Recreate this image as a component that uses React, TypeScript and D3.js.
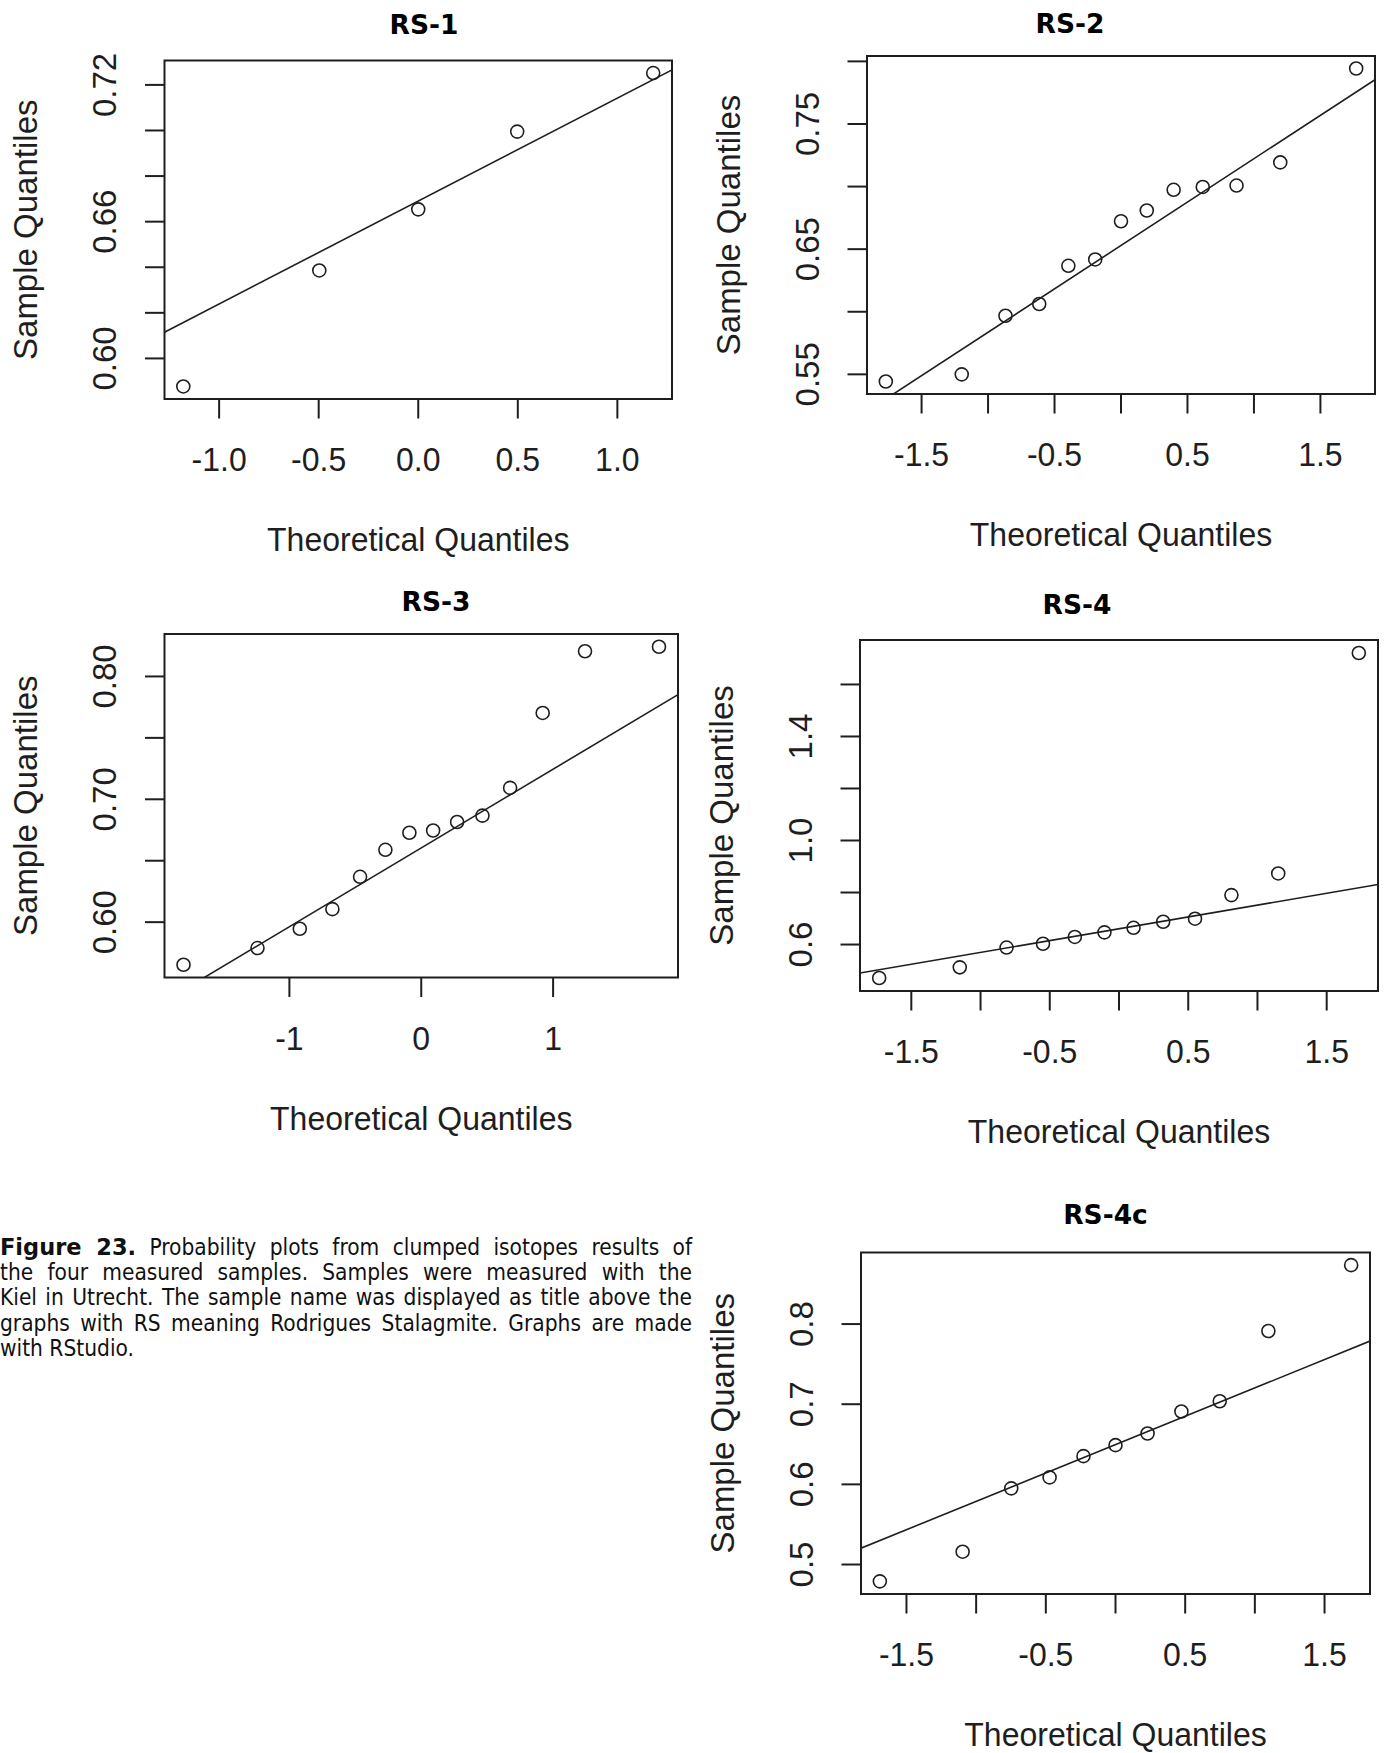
import * as d3 from "d3";
import {useLayoutEffect, useRef, useState} from "react";

// theoretical quantiles (x) and sample quantiles (y)
const RS1_THEORETICAL = [-1.18, -0.497, 0, 0.497, 1.18];
const RS1_SAMPLE = [0.5877, 0.6386, 0.6654, 0.6995, 0.7252];

const RS2_THEORETICAL = [-1.769, -1.198, -0.869, -0.615, -0.396, -0.194, 0, 0.194, 0.396, 0.615, 0.869, 1.198, 1.769];
const RS2_SAMPLE = [0.5443, 0.55, 0.5968, 0.6062, 0.6367, 0.6418, 0.6723, 0.6809, 0.6974, 0.6997, 0.7008, 0.7193, 0.7943];

const RS3_THEORETICAL = [-1.803, -1.242, -0.921, -0.674, -0.464, -0.272, -0.09, 0.09, 0.272, 0.464, 0.674, 0.921, 1.242, 1.803];
const RS3_SAMPLE = [0.5653, 0.5789, 0.5946, 0.6106, 0.6369, 0.6589, 0.6728, 0.6746, 0.6815, 0.6867, 0.7093, 0.7703, 0.8205, 0.8242];

const RS4_THEORETICAL = [-1.732, -1.15, -0.812, -0.549, -0.319, -0.105, 0.105, 0.319, 0.549, 0.812, 1.15, 1.732];
const RS4_SAMPLE = [0.4713, 0.5123, 0.5883, 0.6029, 0.6292, 0.6468, 0.6643, 0.6877, 0.6994, 0.79, 0.8734, 1.721];

const RS4C_THEORETICAL = [-1.691, -1.097, -0.748, -0.473, -0.23, 0, 0.23, 0.473, 0.748, 1.097, 1.691];
const RS4C_SAMPLE = [0.479, 0.516, 0.595, 0.6087, 0.6352, 0.6489, 0.6635, 0.6909, 0.7037, 0.7913, 0.8735];

// ticks; an empty label means R dropped it for lack of room
const X_TICKS_HALF = [-1.5, -1, -0.5, 0, 0.5, 1, 1.5];
const X_LABELS_HALF = ["-1.5", "", "-0.5", "", "0.5", "", "1.5"];
const RS1_X_TICKS = [-1, -0.5, 0, 0.5, 1];
const RS1_X_LABELS = ["-1.0", "-0.5", "0.0", "0.5", "1.0"];
const RS3_X_TICKS = [-1, 0, 1];
const RS3_X_LABELS = ["-1", "0", "1"];

const RS1_Y_TICKS = [0.6, 0.62, 0.64, 0.66, 0.68, 0.7, 0.72];
const RS1_Y_LABELS = ["0.60", "", "", "0.66", "", "", "0.72"];
const RS2_Y_TICKS = [0.55, 0.6, 0.65, 0.7, 0.75, 0.8];
const RS2_Y_LABELS = ["0.55", "", "0.65", "", "0.75", ""];
const RS3_Y_TICKS = [0.6, 0.65, 0.7, 0.75, 0.8];
const RS3_Y_LABELS = ["0.60", "", "0.70", "", "0.80"];
const RS4_Y_TICKS = [0.6, 0.8, 1.0, 1.2, 1.4, 1.6];
const RS4_Y_LABELS = ["0.6", "", "1.0", "", "1.4", ""];
const RS4C_Y_TICKS = [0.5, 0.6, 0.7, 0.8];
const RS4C_Y_LABELS = ["0.5", "0.6", "0.7", "0.8"];

const CAPTION_LINES = [
    "Probability plots from clumped isotopes results of",
    "the four measured samples. Samples were measured with the",
    "Kiel in Utrecht. The sample name was displayed as title above the",
    "graphs with RS meaning Rodrigues Stalagmite. Graphs are made",
    "with RStudio.",
];

const AXIS_FONT = "'Liberation Sans', Arial, sans-serif";
const FONT_SIZE = 33;
const SX = 0.97; // the R images were squeezed a little sideways
const INK = "#1e1e1e";

type Box = {x0: number; x1: number; y0: number; y1: number};
type Panel = {
    name: string;
    theo: number[];
    sample: number[];
    xTicks: number[];
    xLabels: string[];
    yTicks: number[];
    yLabels: string[];
    box: Box;
    titleX: number;
    titleY: number;
};

const panels: Panel[] = [
    {name: "RS-1", theo: RS1_THEORETICAL, sample: RS1_SAMPLE, xTicks: RS1_X_TICKS, xLabels: RS1_X_LABELS,
        yTicks: RS1_Y_TICKS, yLabels: RS1_Y_LABELS, box: {x0: 164.5, x1: 672, y0: 60.5, y1: 399}, titleX: 424, titleY: 24},
    {name: "RS-2", theo: RS2_THEORETICAL, sample: RS2_SAMPLE, xTicks: X_TICKS_HALF, xLabels: X_LABELS_HALF,
        yTicks: RS2_Y_TICKS, yLabels: RS2_Y_LABELS, box: {x0: 867, x1: 1375, y0: 56, y1: 394}, titleX: 1070, titleY: 23},
    {name: "RS-3", theo: RS3_THEORETICAL, sample: RS3_SAMPLE, xTicks: RS3_X_TICKS, xLabels: RS3_X_LABELS,
        yTicks: RS3_Y_TICKS, yLabels: RS3_Y_LABELS, box: {x0: 164.5, x1: 678, y0: 634, y1: 977.5}, titleX: 436, titleY: 601},
    {name: "RS-4", theo: RS4_THEORETICAL, sample: RS4_SAMPLE, xTicks: X_TICKS_HALF, xLabels: X_LABELS_HALF,
        yTicks: RS4_Y_TICKS, yLabels: RS4_Y_LABELS, box: {x0: 860, x1: 1378, y0: 640, y1: 991}, titleX: 1077, titleY: 604},
    {name: "RS-4c", theo: RS4C_THEORETICAL, sample: RS4C_SAMPLE, xTicks: X_TICKS_HALF, xLabels: X_LABELS_HALF,
        yTicks: RS4C_Y_TICKS, yLabels: RS4C_Y_LABELS, box: {x0: 861, x1: 1370, y0: 1252.5, y1: 1594}, titleX: 1105.5, titleY: 1214},
];

// R pads the data range by 4% on each side (xaxs = "r")
function rDomain(values: number[]): [number, number] {
    const [lo = 0, hi = 1] = d3.extent(values);
    const pad = (hi - lo) * 0.04;
    return [lo - pad, hi + pad];
}

function AxisText({x, y, rotate, children}: {x: number; y: number; rotate?: boolean; children: string}) {
    const t = rotate ? `translate(${x},${y}) rotate(-90)` : `translate(${x},${y}) scale(${SX},1)`;
    return (
        <text transform={t} textAnchor="middle" dominantBaseline="central" fontFamily={AXIS_FONT}
              fontSize={FONT_SIZE} fill={INK}>
            {children}
        </text>
    );
}

function QQPanel({p, idx}: {p: Panel; idx: number}) {
    const {box} = p;
    const x = d3.scaleLinear().domain(rDomain(p.theo)).range([box.x0, box.x1]);
    const y = d3.scaleLinear().domain(rDomain(p.sample)).range([box.y1, box.y0]);

    // qqline: through the first and third quartiles
    const sorted = [...p.sample].sort(d3.ascending);
    const q1 = d3.quantile(sorted, 0.25) ?? 0;
    const q3 = d3.quantile(sorted, 0.75) ?? 0;
    const z = 0.6744898;
    const slope = (q3 - q1) / (2 * z);
    const intercept = q1 + z * slope;
    const [dx0, dx1] = x.domain();
    const line = d3.line<number>().x((d) => x(d)).y((d) => y(intercept + slope * d));

    const clipId = `clip-${idx}`;
    const tickLen = 19.5;

    return (
        <g>
            <defs>
                <clipPath id={clipId}>
                    <rect x={box.x0} y={box.y0} width={box.x1 - box.x0} height={box.y1 - box.y0}/>
                </clipPath>
            </defs>
            <text x={p.titleX} y={p.titleY} textAnchor="middle" dominantBaseline="central"
                  fontFamily="'DejaVu Sans', Verdana, sans-serif" fontWeight="bold" fontSize={26.5} fill="#000">
                {p.name}
            </text>
            <path d={line([dx0, dx1]) ?? ""} stroke={INK} strokeWidth={1.6} fill="none" clipPath={`url(#${clipId})`}/>
            {p.theo.map((t, i) => (
                <circle key={i} cx={x(t)} cy={y(p.sample[i])} r={6.5} fill="none" stroke={INK} strokeWidth={1.6}/>
            ))}
            <rect x={box.x0} y={box.y0} width={box.x1 - box.x0} height={box.y1 - box.y0}
                  fill="none" stroke={INK} strokeWidth={2}/>
            {p.xTicks.map((t, i) => (
                <g key={`x${i}`}>
                    <line x1={x(t)} x2={x(t)} y1={box.y1} y2={box.y1 + tickLen} stroke={INK} strokeWidth={2}/>
                    {p.xLabels[i] && <AxisText x={x(t)} y={box.y1 + 61}>{p.xLabels[i]}</AxisText>}
                </g>
            ))}
            {p.yTicks.map((t, i) => (
                <g key={`y${i}`}>
                    <line x1={box.x0 - tickLen} x2={box.x0} y1={y(t)} y2={y(t)} stroke={INK} strokeWidth={2}/>
                    {p.yLabels[i] && <AxisText x={box.x0 - 60} y={y(t)} rotate>{p.yLabels[i]}</AxisText>}
                </g>
            ))}
            <AxisText x={(box.x0 + box.x1) / 2} y={box.y1 + 141}>Theoretical Quantiles</AxisText>
            <AxisText x={box.x0 - 139} y={(box.y0 + box.y1) / 2} rotate>Sample Quantiles</AxisText>
        </g>
    );
}

const CAPTION_LEFT = 0;
const CAPTION_RIGHT = 692;
const CAPTION_TOP = 1255;
const CAPTION_STEP = 25.2;

function Caption() {
    const refs = useRef<(SVGTextElement | null)[]>([]);
    const [spacing, setSpacing] = useState<number[]>(CAPTION_LINES.map(() => 0));

    // justify every line but the last, like the document does
    useLayoutEffect(() => {
        const next = CAPTION_LINES.map((line, i) => {
            const el = refs.current[i];
            if (!el || i === CAPTION_LINES.length - 1) return 0;
            const len = el.getComputedTextLength();
            const full = i === 0 ? "Figure 23. " + line : line;
            const gaps = full.split(" ").length - 1;
            return (CAPTION_RIGHT - CAPTION_LEFT - len) / gaps;
        });
        setSpacing(next);
    }, []);

    return (
        <g fontFamily="'DejaVu Sans Condensed', 'DejaVu Sans', sans-serif" fontSize={22.5} fill="#111">
            {CAPTION_LINES.map((line, i) => (
                <text key={i} ref={(el) => { refs.current[i] = el; }} x={CAPTION_LEFT} y={CAPTION_TOP + i * CAPTION_STEP}
                      wordSpacing={spacing[i]}>
                    {i === 0 && <tspan fontFamily="'DejaVu Sans', sans-serif" fontWeight="bold">Figure 23.</tspan>}
                    {i === 0 ? " " + line : line}
                </text>
            ))}
        </g>
    );
}

export default function App() {
    return (
        <svg width={1389} height={1753} style={{position: "absolute", left: 0, top: 0, background: "#fff"}}>
            {panels.map((p, i) => <QQPanel key={p.name} p={p} idx={i}/>)}
            <Caption/>
        </svg>
    );
}
